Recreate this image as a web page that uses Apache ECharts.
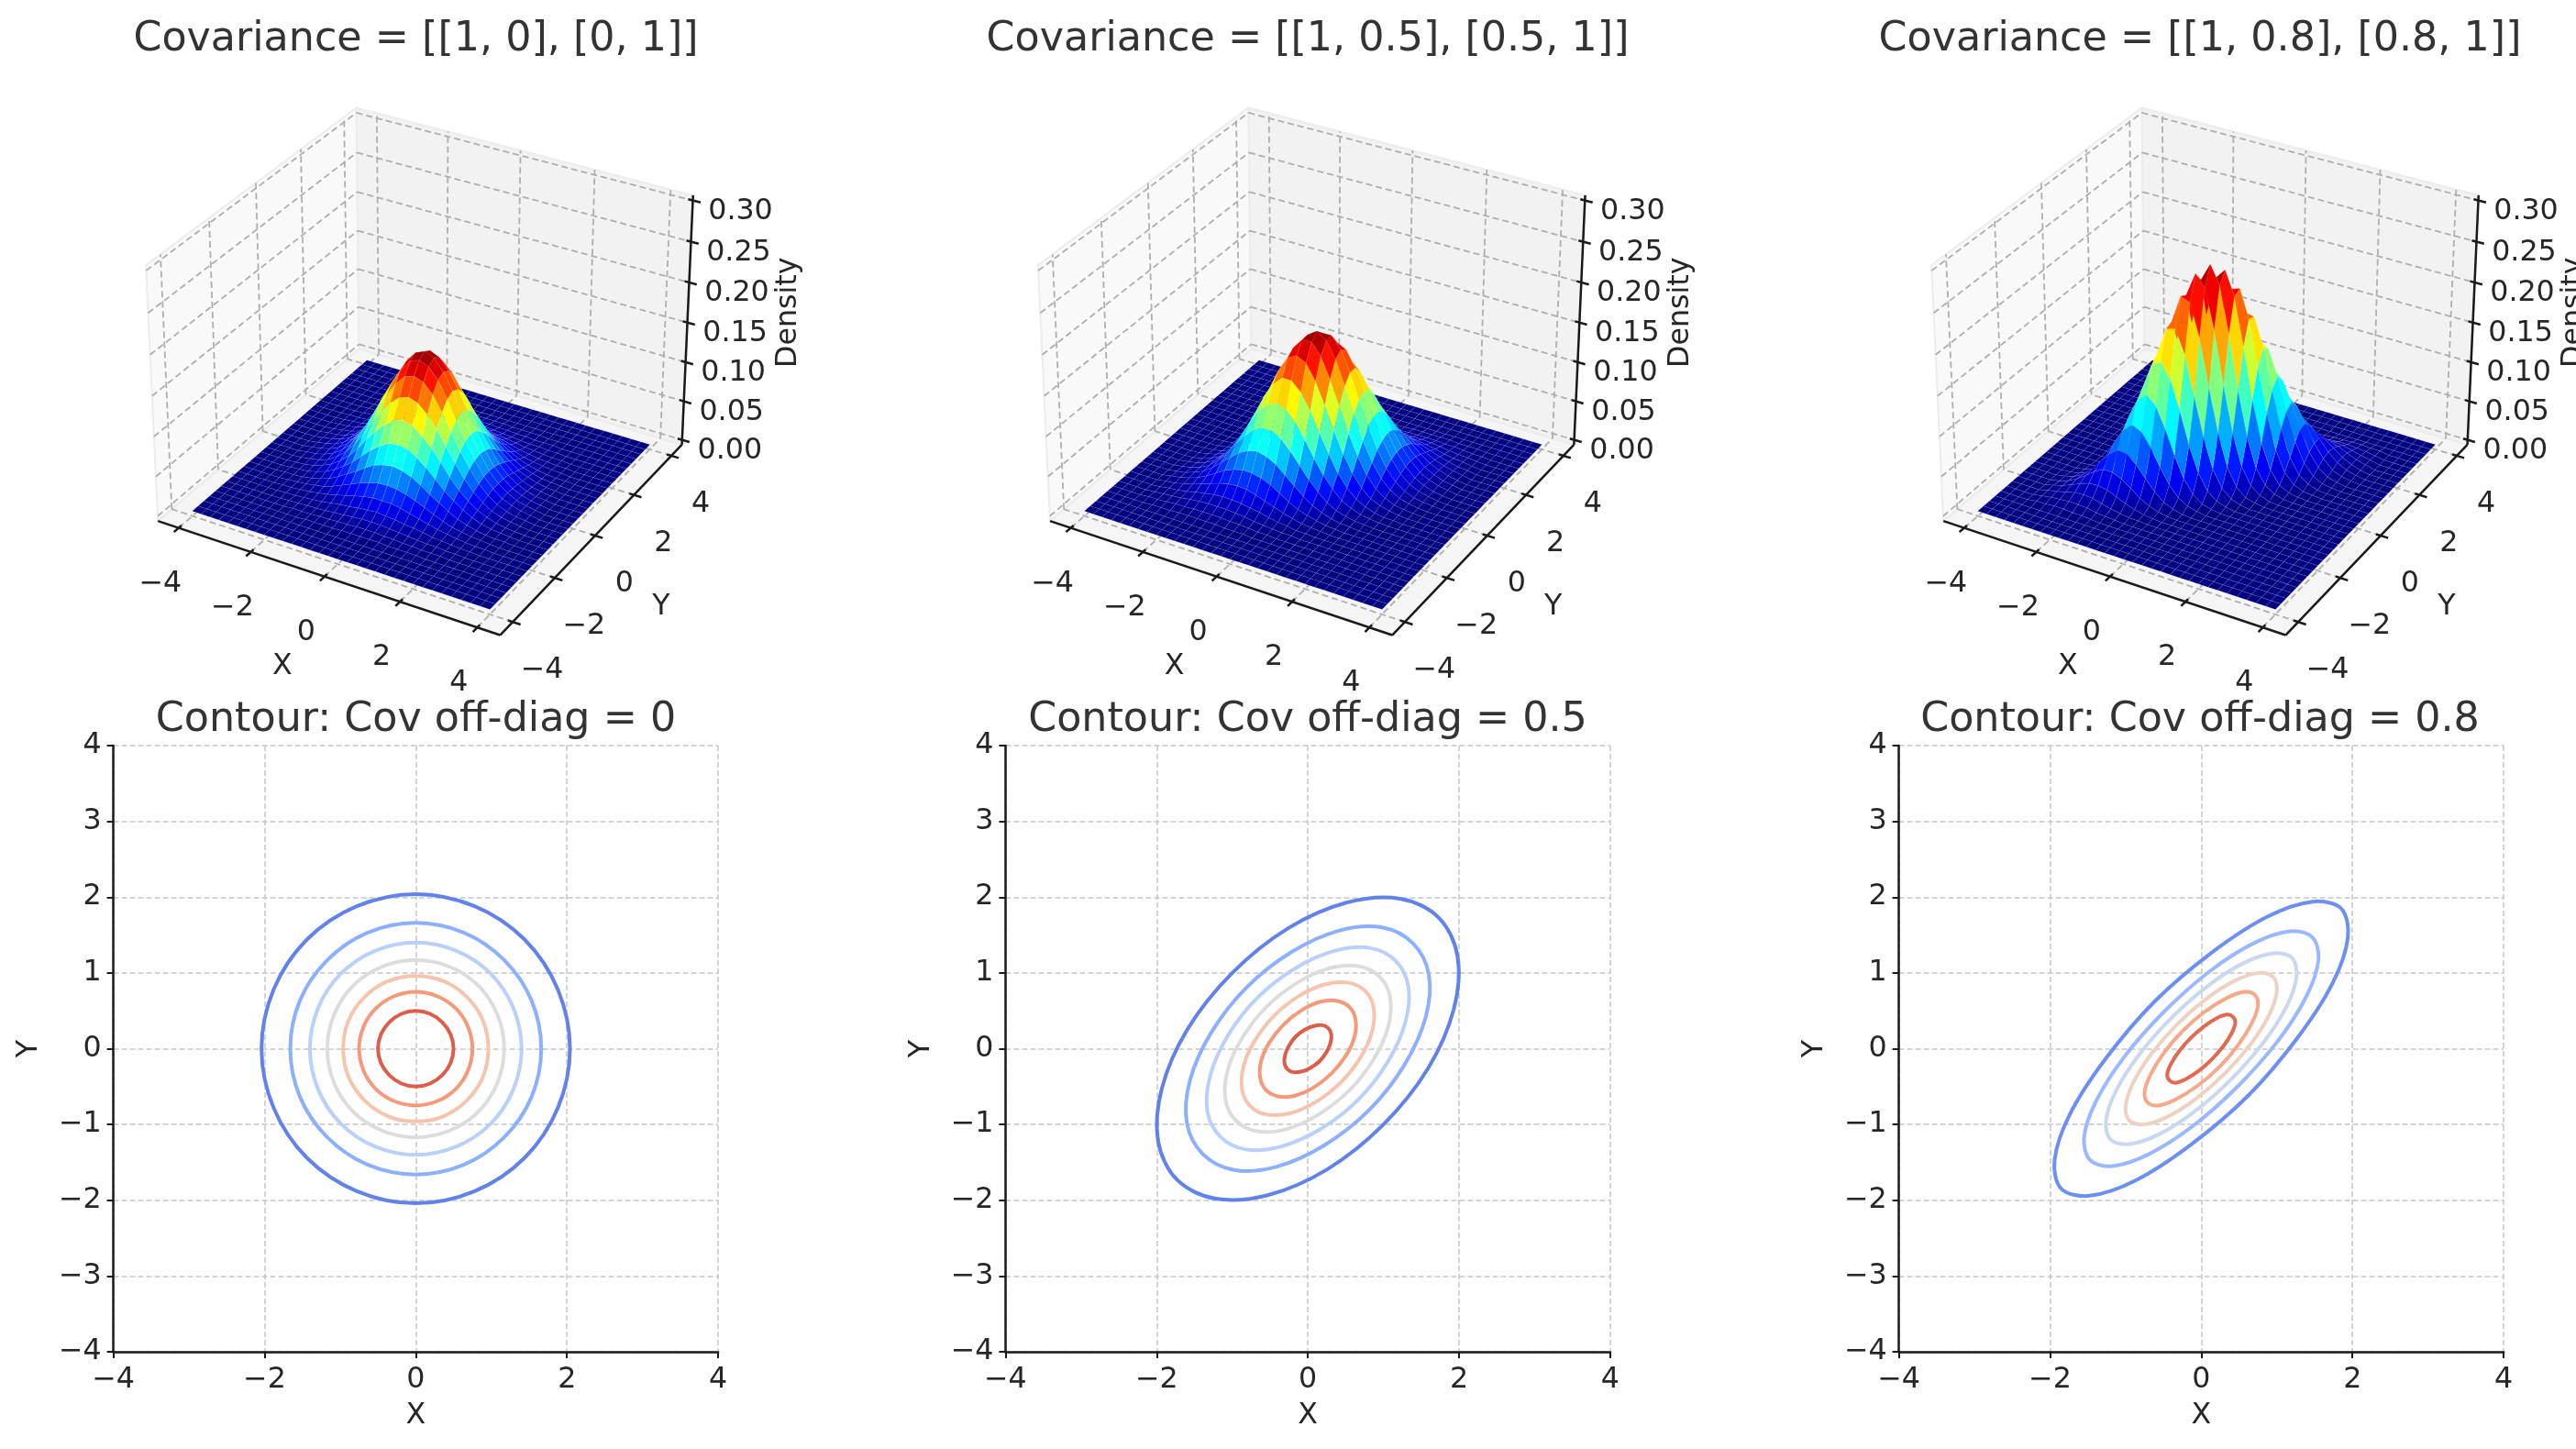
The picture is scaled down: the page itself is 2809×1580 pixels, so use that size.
<!DOCTYPE html>
<html>
<head>
<meta charset="utf-8">
<title>Bivariate normal density</title>
<style>html,body{margin:0;background:#fff}#chart{width:2809px;height:1580px}</style>
<script src="https://cdn.jsdelivr.net/npm/echarts@6/dist/echarts.min.js"></script>
</head>
<body>
<div id="chart"></div>
<script>
const surfaceTitles = ['Covariance = [[1, 0], [0, 1]]', 'Covariance = [[1, 0.5], [0.5, 1]]', 'Covariance = [[1, 0.8], [0.8, 1]]'];
const contourTitles = ['Contour: Cov off-diag = 0', 'Contour: Cov off-diag = 0.5', 'Contour: Cov off-diag = 0.8'];
const xyTicks3d = [-4, -2, 0, 2, 4];
const zTicks3d = [0, 0.05, 0.1, 0.15, 0.2, 0.25, 0.3];

// density x 1000 read off the surfaces: rows y = 0 .. 3, columns x = -3 .. 3, step 0.25
// the lower half is the same surface turned by 180 degrees
const density0 = [
  [2,4,7,13,21,34,52,73,97,120,140,154,159,154,140,120,97,73,52,34,21,13,7,4,2],
  [2,4,7,12,21,33,50,71,94,116,136,149,154,149,136,116,94,71,50,33,21,12,7,4,2],
  [2,3,6,11,19,30,46,64,85,106,124,136,140,136,124,106,85,64,46,30,19,11,6,3,2],
  [1,3,5,9,16,26,39,55,73,91,106,116,120,116,106,91,73,55,39,26,16,9,5,3,1],
  [1,2,4,8,13,21,31,44,59,73,85,94,97,94,85,73,59,44,31,21,13,8,4,2,1],
  [1,2,3,6,10,16,24,33,44,55,64,71,73,71,64,55,44,33,24,16,10,6,3,2,1],
  [1,1,2,4,7,11,17,24,31,39,46,50,52,50,46,39,31,24,17,11,7,4,2,1,1],
  [0,1,2,3,5,7,11,16,21,26,30,33,34,33,30,26,21,16,11,7,5,3,2,1,0],
  [0,1,1,2,3,5,7,10,13,16,19,21,21,21,19,16,13,10,7,5,3,2,1,1,0],
  [0,0,1,1,2,3,4,6,8,9,11,12,13,12,11,9,8,6,4,3,2,1,1,0,0],
  [0,0,0,1,1,2,2,3,4,5,6,7,7,7,6,5,4,3,2,2,1,1,0,0,0],
  [0,0,0,0,1,1,1,2,2,3,3,4,4,4,3,3,2,2,1,1,1,0,0,0,0],
  [0,0,0,0,0,0,1,1,1,1,2,2,2,2,2,1,1,1,1,0,0,0,0,0,0]
];
const density5 = [
  [0,1,3,6,13,24,41,65,94,126,156,176,184,176,156,126,94,65,41,24,13,6,3,1,0],
  [0,1,2,4,9,17,31,51,77,107,137,162,176,176,162,137,107,77,51,31,17,9,4,2,1],
  [0,0,1,3,6,11,21,36,57,83,111,137,156,162,156,137,111,83,57,36,21,11,6,3,1],
  [0,0,1,1,3,7,13,24,39,60,83,107,126,137,137,126,107,83,60,39,24,13,7,3,1],
  [0,0,0,1,2,4,8,14,25,39,57,77,94,107,111,107,94,77,57,39,25,14,8,4,2],
  [0,0,0,0,1,2,4,8,14,24,36,51,65,77,83,83,77,65,51,36,24,14,8,4,2],
  [0,0,0,0,0,1,2,4,8,13,21,31,41,51,57,60,57,51,41,31,21,13,8,4,2],
  [0,0,0,0,0,0,1,2,4,7,11,17,24,31,36,39,39,36,31,24,17,11,7,4,2],
  [0,0,0,0,0,0,0,1,2,3,6,9,13,17,21,24,25,24,21,17,13,9,6,3,2],
  [0,0,0,0,0,0,0,0,1,1,3,4,6,9,11,13,14,14,13,11,9,6,4,3,1],
  [0,0,0,0,0,0,0,0,0,1,1,2,3,4,6,7,8,8,8,7,6,4,3,2,1],
  [0,0,0,0,0,0,0,0,0,0,0,1,1,2,3,3,4,4,4,4,3,3,2,1,1],
  [0,0,0,0,0,0,0,0,0,0,0,0,0,1,1,1,2,2,2,2,2,1,1,1,0]
];
const density8 = [
  [0,0,0,0,1,4,12,30,66,121,187,243,265,243,187,121,66,30,12,4,1,0,0,0,0],
  [0,0,0,0,0,1,5,14,35,73,130,194,243,256,227,169,106,56,25,9,3,1,0,0,0],
  [0,0,0,0,0,0,2,5,15,37,76,130,187,227,231,197,142,86,44,19,7,2,1,0,0],
  [0,0,0,0,0,0,0,2,6,16,37,73,121,169,197,194,160,111,65,32,13,5,1,0,0],
  [0,0,0,0,0,0,0,0,2,6,15,35,66,106,142,160,152,121,81,46,22,9,3,1,0],
  [0,0,0,0,0,0,0,0,0,2,5,14,30,56,86,111,121,111,86,56,30,14,5,2,0],
  [0,0,0,0,0,0,0,0,0,0,2,5,12,25,44,65,81,86,76,57,35,19,8,3,1],
  [0,0,0,0,0,0,0,0,0,0,0,1,4,9,19,32,46,56,57,48,35,21,11,5,2],
  [0,0,0,0,0,0,0,0,0,0,0,0,1,3,7,13,22,30,35,35,29,20,12,6,2],
  [0,0,0,0,0,0,0,0,0,0,0,0,0,1,2,5,9,14,19,21,20,16,11,6,3],
  [0,0,0,0,0,0,0,0,0,0,0,0,0,0,1,1,3,5,8,11,12,11,8,5,3],
  [0,0,0,0,0,0,0,0,0,0,0,0,0,0,0,0,1,2,3,5,6,6,5,4,2],
  [0,0,0,0,0,0,0,0,0,0,0,0,0,0,0,0,0,0,1,2,2,3,3,2,2]
];
const densities = [density0, density5, density8];

// one quarter of every contour, five points, outermost first
const contours0 = [
  [[1.44,1.44],[.78,1.88],[0,2.04],[-.78,1.88],[-1.44,1.44]],
  [[1.17,1.17],[.64,1.53],[0,1.66],[-.64,1.53],[-1.17,1.17]],
  [[.99,.99],[.54,1.29],[0,1.40],[-.54,1.29],[-.99,.99]],
  [[.83,.83],[.45,1.08],[0,1.17],[-.45,1.08],[-.83,.83]],
  [[.68,.68],[.37,.89],[0,.96],[-.37,.89],[-.68,.68]],
  [[.53,.53],[.29,.69],[0,.75],[-.29,.69],[-.53,.53]],
  [[.35,.35],[.19,.46],[0,.50],[-.19,.46],[-.35,.35]]
];
const contours5 = [
  [[1.73,1.73],[1.22,1.98],[.52,1.93],[-.26,1.59],[-1,1]],
  [[1.39,1.39],[.98,1.60],[.42,1.56],[-.21,1.28],[-.81,.81]],
  [[1.16,1.16],[.82,1.33],[.35,1.29],[-.17,1.06],[-.67,.67]],
  [[.95,.95],[.67,1.09],[.28,1.06],[-.14,.87],[-.55,.55]],
  [[.76,.76],[.54,.87],[.23,.85],[-.11,.70],[-.44,.44]],
  [[.55,.55],[.39,.63],[.17,.62],[-.08,.51],[-.32,.32]],
  [[.27,.27],[.19,.31],[.08,.30],[-.04,.25],[-.16,.16]]
];
const contours8 = [
  [[1.85,1.85],[1.47,1.94],[.87,1.74],[.14,1.27],[-.62,.62]],
  [[1.47,1.47],[1.17,1.55],[.69,1.39],[.11,1.02],[-.49,.49]],
  [[1.20,1.20],[.95,1.26],[.56,1.13],[.09,.83],[-.40,.40]],
  [[.95,.95],[.76,1.00],[.45,.90],[.07,.66],[-.32,.32]],
  [[.71,.71],[.57,.75],[.34,.67],[.05,.49],[-.24,.24]],
  [[.42,.42],[.34,.45],[.20,.40],[.03,.29],[-.14,.14]]
];
const contourSets = [contours0, contours5, contours8];
const contourColors = [
  ['#6282ea', '#8db0fe', '#b9d0f9', '#dddcdc', '#f5c4ac', '#f49a7b', '#dc5d4a'],
  ['#6282ea', '#8db0fe', '#b9d0f9', '#dddcdc', '#f5c4ac', '#f49a7b', '#dc5d4a'],
  ['#6c8ff1', '#9ab8ff', '#c9d7f0', '#edd1c2', '#f7a889', '#e26952']
];

const FONT = '"DejaVu Sans"';
const TEXT = '#262626';
const panelDx = [0, 972.8, 1947];
const titleX = [448.5, 1421, 2394];

// matplotlib style view: elev 30, azim -60, box aspect 4:4:3
const LIM = 4.583, ZMIN = -0.00625, ZMAX = 0.30625;
const BX = 1.1905, BZ = 0.866;
const U = [0.866, 0.5, 0], V = [-0.25, 0.433, 0.866], W = [0.433, -0.75, 0.5];

function project(x, y, z) {
  const dx = (x + LIM) / (2 * LIM) * BX - BX / 2;
  const dy = (y + LIM) / (2 * LIM) * BX - BX / 2;
  const dz = (z - ZMIN) / (ZMAX - ZMIN) * BZ - BZ / 2;
  const wd = W[0] * dx + W[1] * dy + W[2] * dz;
  const depth = 10 - wd;
  return [(U[0] * dx + U[1] * dy) / depth, (V[0] * dx + V[1] * dy + V[2] * dz) / depth, depth];
}

function jet(t) {
  const c = (v) => Math.round(255 * Math.max(0, Math.min(1, v)));
  return `rgb(${c(1.5 - Math.abs(4 * t - 3))},${c(1.5 - Math.abs(4 * t - 2))},${c(1.5 - Math.abs(4 * t - 1))})`;
}

const CELL = 0.25, STEPS = 32;

function heightAt(table, i, j) {
  // i, j count cells from -4
  let col = i - 16, row = j - 16;
  if (row < 0) { row = -row; col = -col; }
  if (row > 12 || Math.abs(col) > 12) return 0;
  return table[row][col + 12] / 1000;
}

function surfaceSeries(p) {
  const table = densities[p];
  const peak = Math.max(...table.flat()) / 1000;
  const cells = [];
  for (let j = 0; j < STEPS; j++) {
    for (let i = 0; i < STEPS; i++) {
      const cx = -4 + (i + 0.5) * CELL, cy = -4 + (j + 0.5) * CELL;
      const h = [heightAt(table, i, j), heightAt(table, i + 1, j), heightAt(table, i + 1, j + 1), heightAt(table, i, j + 1)];
      const mean = (h[0] + h[1] + h[2] + h[3]) / 4;
      cells.push({ i, j, h, mean, depth: project(cx, cy, mean)[2] });
    }
  }
  cells.sort((a, b) => b.depth - a.depth);
  return {
    type: 'custom',
    xAxisIndex: p,
    yAxisIndex: p,
    clip: false,
    silent: true,
    z: 3,
    progressive: 0,
    animation: false,
    data: cells.map((c, k) => [k, 0]),
    renderItem(params, api) {
      const c = cells[api.value(0)];
      const x0 = -4 + c.i * CELL, y0 = -4 + c.j * CELL;
      const corners = [[x0, y0], [x0 + CELL, y0], [x0 + CELL, y0 + CELL], [x0, y0 + CELL]];
      const pts = corners.map((q, n) => api.coord(project(q[0], q[1], c.h[n]).slice(0, 2)));
      const fill = jet(c.mean / peak);
      return {
        type: 'polygon',
        shape: { points: pts },
        style: { fill, stroke: 'rgba(255,255,255,0.14)', lineWidth: 0.7 }
      };
    }
  };
}

function frameSeries(p) {
  const items = [];
  const A = LIM, Z0 = ZMIN, Z1 = ZMAX;
  const pane = (fill, q) => items.push({ kind: 'pane', fill, pts: q });
  const line = (kind, a, b) => items.push({ kind, pts: [a, b] });
  const label = (text, at, dx, dy, rotate) => items.push({ kind: 'label', text, at, dx, dy, rotate });
  pane('#f5f5f5', [[-A, -A, Z0], [A, -A, Z0], [A, A, Z0], [-A, A, Z0]]);
  pane('#f9f9f9', [[-A, -A, Z0], [-A, A, Z0], [-A, A, Z1], [-A, -A, Z1]]);
  pane('#f2f2f2', [[-A, A, Z0], [A, A, Z0], [A, A, Z1], [-A, A, Z1]]);
  xyTicks3d.forEach((t) => {
    line('grid', [t, -A, Z0], [t, A, Z0]);
    line('grid', [t, A, Z0], [t, A, Z1]);
    line('grid', [A, t, Z0], [-A, t, Z0]);
    line('grid', [-A, t, Z0], [-A, t, Z1]);
  });
  zTicks3d.forEach((z) => {
    line('grid', [-A, -A, z], [-A, A, z]);
    line('grid', [-A, A, z], [A, A, z]);
  });
  line('axis', [-A, -A, Z0], [A, -A, Z0]);
  line('axis', [A, -A, Z0], [A, A, Z0]);
  line('axis', [A, A, Z0], [A, A, Z1]);
  xyTicks3d.forEach((t) => {
    const txt = String(t).replace('-', '\u2212');
    line('tick', [t, -A + 0.12, Z0], [t, -A - 0.2, Z0]);
    line('tick', [A - 0.12, t, Z0], [A + 0.2, t, Z0]);
    label(txt, [t, -A, Z0], -20, 61);
    label(txt, [A, t, Z0], 32, 53);
  });
  zTicks3d.forEach((z) => {
    line('tick', [A - 0.12, A, z], [A + 0.2, A, z]);
    label(z.toFixed(2), [A, A, z], 52, 12);
  });
  label('X', [0, -A, Z0], -46, 98);
  label('Y', [A, 0, Z0], 72, 78);
  label('Density', [A, A, 0.15], 110, -11, true);
  return {
    type: 'custom',
    xAxisIndex: p,
    yAxisIndex: p,
    clip: false,
    silent: true,
    z: 2,
    progressive: 0,
    animation: false,
    data: items.map((it, k) => [k, 0]),
    renderItem(params, api) {
      const it = items[api.value(0)];
      if (it.kind === 'label') {
        const at = api.coord(project(...it.at).slice(0, 2));
        return {
          type: 'text',
          x: at[0] + it.dx,
          y: at[1] + it.dy,
          rotation: it.rotate ? Math.PI / 2 : 0,
          style: { text: it.text, fill: TEXT, font: `31.7px ${FONT}`, textAlign: 'center', textVerticalAlign: 'middle' }
        };
      }
      const pts = it.pts.map((q) => api.coord(project(...q).slice(0, 2)));
      if (it.kind === 'pane') {
        return { type: 'polygon', shape: { points: pts }, style: { fill: it.fill, stroke: '#ececec', lineWidth: 2 } };
      }
      const looks = {
        grid: { stroke: '#aeaeae', lineWidth: 1.8, lineDash: [7, 4] },
        axis: { stroke: '#1a1a1a', lineWidth: 2.5 },
        tick: { stroke: '#1a1a1a', lineWidth: 2.5 }
      };
      return {
        type: 'line',
        shape: { x1: pts[0][0], y1: pts[0][1], x2: pts[1][0], y2: pts[1][1] },
        style: looks[it.kind]
      };
    }
  };
}

function closedRing(quarter) {
  const half = [...quarter, ...quarter.slice(0, 4).reverse().map(([x, y]) => [-y, -x])];
  return [...half, ...half.slice(1, 8).map(([x, y]) => [-x, -y])];
}

function contourSeries(p, g) {
  const rings = contourSets[p].map(closedRing);
  return {
    type: 'custom',
    xAxisIndex: g,
    yAxisIndex: g,
    silent: true,
    z: 5,
    animation: false,
    data: rings.map((r, k) => [k, 0]),
    renderItem(params, api) {
      const k = api.value(0);
      return {
        type: 'polygon',
        shape: { points: rings[k].map((q) => api.coord(q)), smooth: 0.34 },
        style: { fill: 'none', stroke: contourColors[p][k], lineWidth: 4 }
      };
    }
  };
}

const grids = [];
const xAxes = [];
const yAxes = [];
const titles = [];
const series = [];

[0, 1, 2].forEach((p) => {
  // the view box stops short of the page edge, ECharts squeezes a grid that runs past it
  grids.push({ left: 32.6 + panelDx[p], top: 24, width: 789.4, height: 734 });
  xAxes.push({ type: 'value', gridIndex: p, min: -0.12, max: 0.1, show: false });
  yAxes.push({ type: 'value', gridIndex: p, min: -0.1, max: 0.1, show: false });
  titles.push({
    text: surfaceTitles[p], left: titleX[p], top: 16, textAlign: 'center',
    textStyle: { fontFamily: FONT, fontSize: 44.4, fontWeight: 'normal', color: '#333' }
  });
  series.push(frameSeries(p), surfaceSeries(p));
});

const plainAxis = (gridIndex, interval) => ({
  type: 'value',
  gridIndex,
  min: -4,
  max: 4,
  interval,
  axisLine: { show: true, onZero: false, lineStyle: { color: '#1a1a1a', width: 2.5 } },
  axisTick: { show: true, length: 7, lineStyle: { color: '#1a1a1a', width: 2 } },
  axisLabel: { fontFamily: FONT, fontSize: 31.7, color: TEXT, margin: 15 },
  splitLine: { show: true, lineStyle: { color: '#c6c6c6', width: 1.5, type: [6, 3] } },
  nameLocation: 'middle',
  nameTextStyle: { fontFamily: FONT, fontSize: 31.7, color: TEXT }
});
const minusLabel = (v) => String(v).replace('-', '\u2212');

[0, 1, 2].forEach((p) => {
  const g = p + 3;
  const xAxis = plainAxis(g, 2);
  const yAxis = plainAxis(g, 1);
  xAxis.axisLabel.formatter = minusLabel;
  yAxis.axisLabel.formatter = minusLabel;
  yAxis.axisLabel.margin = 13;
  yAxis.axisLabel.padding = [3, 0, 0, 0];
  grids.push({ left: 123.6 + panelDx[p], top: 813, width: 659.5, height: 661 });
  xAxes.push({ ...xAxis, name: 'X', nameGap: 54 });
  yAxes.push({ ...yAxis, name: 'Y', nameGap: 76, nameRotate: 90 });
  titles.push({
    text: contourTitles[p], left: titleX[p], top: 758, textAlign: 'center',
    textStyle: { fontFamily: FONT, fontSize: 44.4, fontWeight: 'normal', color: '#333' }
  });
  series.push(contourSeries(p, g));
});

const chart = echarts.init(document.getElementById('chart'), null, { renderer: 'canvas' });
chart.setOption({
  backgroundColor: '#ffffff',
  animation: false,
  title: titles,
  grid: grids,
  xAxis: xAxes,
  yAxis: yAxes,
  series
});
</script>
</body>
</html>
